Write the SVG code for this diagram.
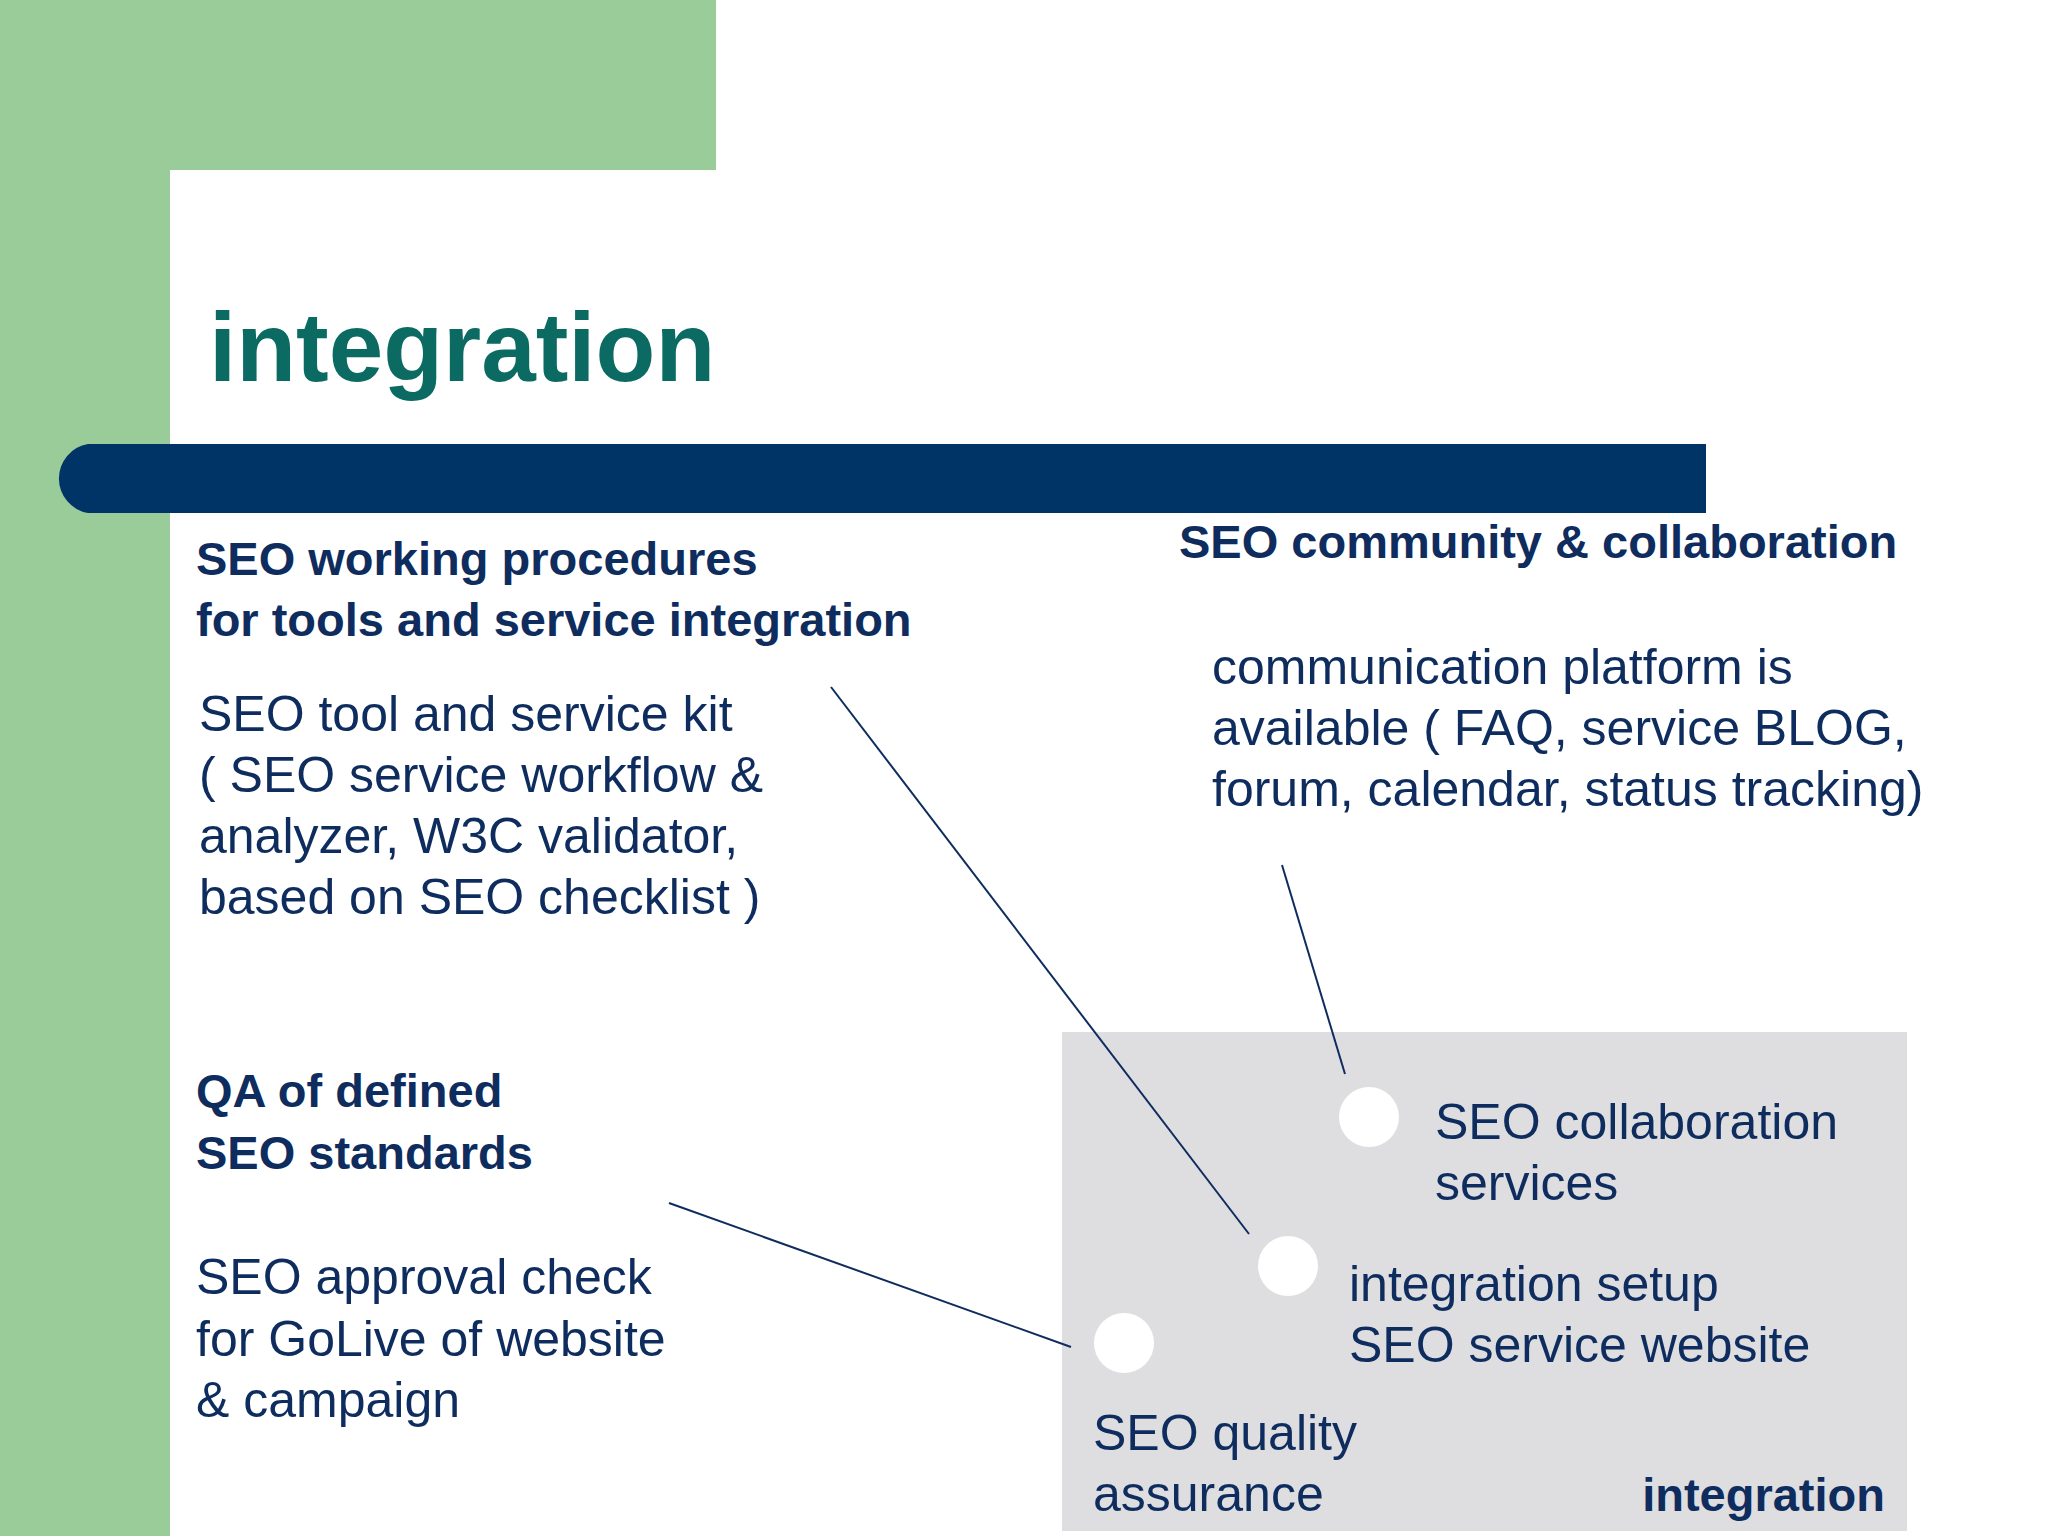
<svg xmlns="http://www.w3.org/2000/svg" width="2048" height="1536" viewBox="0 0 2048 1536">
<style>
.t{font-family:"Liberation Sans",Arial,sans-serif;font-size:50px;fill:#0e2d5e}
.b{font-family:"Liberation Sans",Arial,sans-serif;font-size:47px;font-weight:bold;fill:#0e2d5e}
.c{fill:#ffffff}
.l{stroke:#0e2d5e;stroke-width:2;fill:none}
</style>
<rect width="2048" height="1536" fill="#ffffff"/>
<rect x="0" y="0" width="716" height="170" fill="#99cc99"/>
<rect x="0" y="0" width="170" height="1536" fill="#99cc99"/>
<path d="M170 1536 V235 A65 65 0 0 1 235 170 H716 V1536 Z" fill="#ffffff"/>
<text x="209" y="381" font-family="Liberation Sans,Arial,sans-serif" font-size="98" font-weight="bold" fill="#0b6b63">integration</text>
<path d="M88 444 H1706 V513 H88 A35 35 0 0 1 88 444 Z" fill="#003366"/>
<g id="box"><rect x="1062" y="1032" width="845" height="499" fill="#dedde0"/></g>
<g id="connectors">
<line class="l" x1="831" y1="687" x2="1249" y2="1234"/>
<line class="l" x1="1282" y1="865" x2="1345" y2="1074"/>
<line class="l" x1="669" y1="1203" x2="1071" y2="1347"/>
</g>
<g id="n1"><text class="b" x="196" y="575">SEO working procedures</text><text class="b" x="196" y="636">for tools and service integration</text>
<text class="t" x="199" y="731">SEO tool and service kit</text><text class="t" x="199" y="792">( SEO service workflow &amp;</text><text class="t" x="199" y="853">analyzer, W3C validator,</text><text class="t" x="199" y="914">based on SEO checklist )</text></g>
<g id="n2"><text class="b" x="1179" y="558">SEO community &amp; collaboration</text>
<text class="t" x="1212" y="684">communication platform is</text><text class="t" x="1212" y="745">available ( FAQ, service BLOG,</text><text class="t" x="1212" y="806">forum, calendar, status tracking)</text></g>
<g id="n3"><text class="b" x="196" y="1107">QA of defined</text><text class="b" x="196" y="1169">SEO standards</text>
<text class="t" x="196" y="1294">SEO approval check</text><text class="t" x="196" y="1356">for GoLive of website</text><text class="t" x="196" y="1417">&amp; campaign</text></g>
<g id="c1"><circle class="c" cx="1369" cy="1117" r="30"/><text class="t" x="1435" y="1139">SEO collaboration</text><text class="t" x="1435" y="1200">services</text></g>
<g id="c2"><circle class="c" cx="1288" cy="1266" r="30"/><text class="t" x="1349" y="1301">integration setup</text><text class="t" x="1349" y="1362">SEO service website</text></g>
<g id="c3"><circle class="c" cx="1124" cy="1343" r="30"/><text class="t" x="1093" y="1450">SEO quality</text><text class="t" x="1093" y="1511">assurance</text></g>
<text class="b" x="1885" y="1511" text-anchor="end">integration</text>
</svg>
